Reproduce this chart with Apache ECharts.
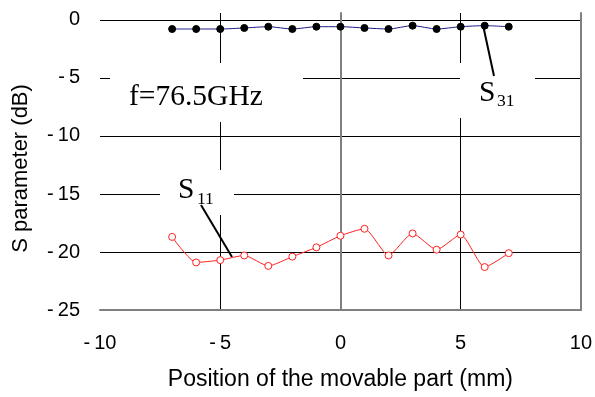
<!DOCTYPE html>
<html><head><meta charset="utf-8">
<script src="https://cdn.jsdelivr.net/npm/echarts@6/dist/echarts.min.js"></script>
<style>html,body{margin:0;padding:0;background:#fff}#c{width:595px;height:397px}</style>
</head><body><div id="c"></div>
<script>
const positions = [-7,-6,-5,-4,-3,-2,-1,0,1,2,3,4,5,6,7];
const s31 = [-0.78,-0.78,-0.78,-0.69,-0.58,-0.78,-0.58,-0.58,-0.69,-0.78,-0.49,-0.78,-0.58,-0.49,-0.58];
const s11 = [-18.7,-20.9,-20.7,-20.3,-21.2,-20.4,-19.6,-18.6,-18.0,-20.3,-18.4,-19.8,-18.5,-21.3,-20.1];
const xRange = [-10, 10];
const yRange = [-25, 0];

const chart = echarts.init(document.getElementById('c'), null, {renderer:'canvas'});
const sans = 'Liberation Sans, Arial, sans-serif';
const serif = 'Liberation Serif, Times New Roman, serif';
const yMaxExt = 0.6;
const fmt = v => v < 0 ? '-\u2009' + Math.abs(v) : String(v);
chart.setOption({
  animation:false,
  backgroundColor:'#fff',
  grid:{left:100, right:12, top:13, bottom:87},
  xAxis:{type:'value', min:xRange[0], max:xRange[1], interval:5,
    axisLine:{onZero:false, lineStyle:{color:'#808080', width:2}},
    axisTick:{show:false},
    axisLabel:{color:'#000', fontFamily:sans, fontSize:20, margin:23, formatter:fmt},
    splitLine:{show:true, showMinLine:false, showMaxLine:false, lineStyle:{color:'#000', width:1}},
    name:'Position of the movable part (mm)', nameLocation:'middle', nameGap:58,
    nameTextStyle:{color:'#000', fontFamily:sans, fontSize:23}
  },
  yAxis:[{type:'value', min:yRange[0], max:yRange[1]+yMaxExt, interval:5,
    axisLine:{show:true, lineStyle:{color:'#808080', width:2}},
    axisTick:{show:false},
    axisLabel:{color:'#000', fontFamily:sans, fontSize:20, margin:20, showMaxLabel:false,
      formatter:function(v){return (Math.abs(v % 5) < 1e-9) ? fmt(v) : '';}},
    splitLine:{show:true, showMinLine:false, showMaxLine:false, lineStyle:{color:'#000', width:1}},
    name:'S parameter (dB)', nameLocation:'middle', nameGap:68,
    nameTextStyle:{color:'#000', fontFamily:sans, fontSize:22, padding:[0,14,0,0]}
  },{type:'value', position:'right', min:yRange[0], max:yRange[1]+yMaxExt,
    axisLine:{show:true, lineStyle:{color:'#808080', width:2}},
    axisTick:{show:false}, axisLabel:{show:false}, splitLine:{show:false}
  }],
  series:[
    {name:'S31', type:'line', data:positions.map((p,i)=>[p,s31[i]]), smooth:0.2,
      symbol:'circle', symbolSize:7, lineStyle:{color:'#1a1a8c', width:1},
      itemStyle:{color:'#000', borderColor:'#000'}, z:5},
    {name:'S11', type:'line', data:positions.map((p,i)=>[p,s11[i]]), smooth:0.2,
      symbol:'circle', symbolSize:7, lineStyle:{color:'#ff2020', width:1},
      itemStyle:{color:'#fff', borderColor:'#ff2020', borderWidth:1}, z:5}
  ],
  graphic:[
    {type:'rect', shape:{x:110,y:63,width:193,height:59}, style:{fill:'#fff'}, z:3},
    {type:'rect', shape:{x:460,y:63,width:75,height:55}, style:{fill:'#fff'}, z:3},
    {type:'rect', shape:{x:160,y:170,width:74,height:45}, style:{fill:'#fff'}, z:3},
    {type:'text', x:129, y:97, style:{text:'f=76.5GHz', font:'29.5px '+serif, fill:'#000', align:'left', verticalAlign:'middle'}, z:4},
    {type:'text', x:479, y:93, style:{text:'S', font:'29.5px '+serif, fill:'#000', align:'left', verticalAlign:'middle'}, z:4},
    {type:'text', x:497, y:101, style:{text:'31', font:'17.5px '+serif, fill:'#000', align:'left', verticalAlign:'middle'}, z:4},
    {type:'text', x:178, y:190, style:{text:'S', font:'29.5px '+serif, fill:'#000', align:'left', verticalAlign:'middle'}, z:4},
    {type:'text', x:197, y:199, style:{text:'11', font:'17.5px '+serif, fill:'#000', align:'left', verticalAlign:'middle'}, z:4},
    {type:'line', shape:{x1:483,y1:25,x2:494,y2:76}, style:{stroke:'#000', lineWidth:2}, z:4},
    {type:'line', shape:{x1:201,y1:205,x2:232,y2:257}, style:{stroke:'#000', lineWidth:2}, z:4}
  ]
});
</script></body></html>
